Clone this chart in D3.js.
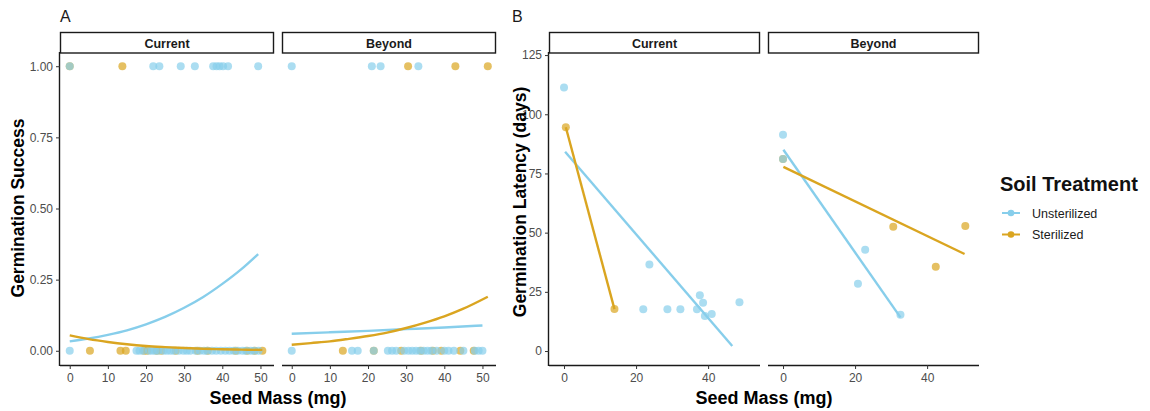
<!DOCTYPE html>
<html><head><meta charset="utf-8">
<script src="https://cdn.jsdelivr.net/npm/d3@7"></script>
<style>body{margin:0;background:#fff;} svg{display:block;font-family:"Liberation Sans",Arial,sans-serif;}</style>
</head><body><svg id="chart" width="1150" height="411"></svg>
<script>
// ---------- data ----------
const facets = ["Current", "Beyond"];
const treatments = ["Unsterilized", "Sterilized"];
const xTicksA = [0, 10, 20, 30, 40, 50];
const yTicksA = [0, 0.25, 0.5, 0.75, 1];
const yTickLabelsA = ["0.00", "0.25", "0.50", "0.75", "1.00"];
const xTicksB = [0, 20, 40];
const yTicksB = [0, 25, 50, 75, 100, 125];

// Panel A: seed mass of seeds that germinated (1) or not (0)
const aCurUnsterSuccess = [0, 21.9, 23.5, 29.1, 32.8, 37.6, 38.5, 39.3, 40.2, 41.5, 49.4];
const aCurSterSuccess = [0, 13.8];
const aCurUnsterFail = [0, 17.5, 18.3, 19.2, 20.8, 21.6, 22.4, 23.2, 24.6, 25.5, 26.4, 27.3, 28.6, 29.8, 30.7, 31.6, 33.0, 34.1, 35.2, 36.0, 37.3, 38.4, 39.6, 40.8, 41.9, 43.0, 44.1, 45.3, 46.2, 47.4, 48.3, 49.5];
const aCurSterFail = [5.3, 13.3, 14.7, 19.5, 20.3, 22.8, 24.0, 27.8, 33.5, 36.2, 43.5, 46.5, 48.5, 50.5];
const aBeyUnsterSuccess = [0, 21, 23.3, 33.2];
const aBeySterSuccess = [30.5, 42.9, 51.4];
const aBeyUnsterFail = [0, 15.8, 17.3, 21.5, 25.2, 26.3, 27.4, 29.5, 30.6, 31.6, 32.6, 33.6, 34.6, 35.6, 36.6, 38.0, 40.0, 41.1, 42.5, 45.0, 48.0, 49.0, 50.0];
const aBeySterFail = [13.4, 21.5, 28.7, 33.9, 37.0, 39.2, 44.2, 47.7];

// Panel A fitted logistic curves
const aCurUnsterFitX = [0, 5, 10, 15, 20, 25, 30, 35, 40, 45, 49.4];
const aCurUnsterFitY = [0.033, 0.043, 0.056, 0.072, 0.093, 0.119, 0.151, 0.189, 0.235, 0.287, 0.34];
const aCurSterFitX = [0, 5, 10, 15, 20, 25, 30, 35, 40, 45, 50.5];
const aCurSterFitY = [0.054, 0.041, 0.031, 0.023, 0.017, 0.013, 0.0097, 0.0072, 0.0054, 0.004, 0.003];
const aBeyUnsterFitX = [0, 10, 20, 30, 40, 50];
const aBeyUnsterFitY = [0.060, 0.065, 0.070, 0.076, 0.082, 0.089];
const aBeySterFitX = [0, 5, 10, 15, 20, 25, 30, 35, 40, 45, 51.4];
const aBeySterFitY = [0.021, 0.027, 0.033, 0.042, 0.052, 0.064, 0.080, 0.099, 0.121, 0.148, 0.19];

// Panel B: germination latency (days)
const bCurUnsterMass = [0, 23.7, 22, 28.7, 32.3, 36.9, 37.7, 38.6, 39.1, 41, 48.7];
const bCurUnsterDays = [111.3, 36.6, 17.6, 17.6, 17.6, 17.6, 23.6, 20.4, 14.8, 15.6, 20.6];
const bCurSterMass = [0.5, 14];
const bCurSterDays = [94.5, 17.7];
const bBeyUnsterMass = [0, 0, 22.8, 20.8, 32.6];
const bBeyUnsterDays = [91.3, 81.1, 42.8, 28.4, 15.3];
const bBeySterMass = [0, 30.6, 42.4, 50.6];
const bBeySterDays = [81.1, 52.5, 35.6, 52.8];
// Panel B fitted lines
const bCurUnsterFitX = [0.3, 46.7], bCurUnsterFitY = [84.2, 2.1];
const bCurSterFitX = [0.5, 14], bCurSterFitY = [94.5, 17.7];
const bBeyUnsterFitX = [0.1, 32.6], bBeyUnsterFitY = [85, 14.2];
const bBeySterFitX = [0.1, 50.4], bBeySterFitY = [77.8, 41.0];

// ---------- style ----------
const colBlue = "#87CEEB", colGold = "#DAA520";
const colors = {Unsterilized: colBlue, Sterilized: colGold};
const ptOpacity = 0.7, ptR = 4, lineW = 2.4;
const tickCol = "#4d4d4d";

const svg = d3.select("#chart");
const pTop = 52, pBottom = 365;

function zipXY(xs, ys) { return xs.map((x, i) => [x, ys[i]]); }

function drawPanel(cfg) {
  const g = svg.append("g");
  const x = d3.scaleLinear().domain(cfg.xDomain).range([cfg.x0, cfg.x1]);
  const y = cfg.y;
  // strip
  g.append("rect").attr("x", cfg.x0 + 0.5).attr("y", 32.5).attr("width", cfg.x1 - cfg.x0 - 1).attr("height", 20.5)
    .attr("fill", "#fff").attr("stroke", "#1a1a1a").attr("stroke-width", 1.4);
  g.append("text").attr("x", (cfg.x0 + cfg.x1) / 2).attr("y", 47.5).attr("text-anchor", "middle")
    .attr("font-size", 12.5).attr("font-weight", "bold").attr("fill", "#1a1a1a").text(cfg.facet);
  // x axis
  const xa = g.append("g").attr("transform", `translate(0,${pBottom})`)
    .call(d3.axisBottom(x).tickValues(cfg.xTicks).tickSize(4).tickPadding(4).tickFormat(d3.format("d")));
  xa.select(".domain").attr("stroke", "#1a1a1a").attr("stroke-width", 1.4).attr("d", `M${cfg.x0},0.5H${cfg.x1}`);
  xa.selectAll(".tick line").attr("stroke", "#333").attr("stroke-width", 1);
  xa.selectAll(".tick text").attr("fill", tickCol).attr("font-size", 12).attr("font-family", "Liberation Sans, Arial, sans-serif");
  // y axis for leftmost panel only
  if (cfg.yAxis) {
    const ya = g.append("g").attr("transform", `translate(${cfg.x0},0)`)
      .call(d3.axisLeft(y).tickValues(cfg.yTicks).tickSize(4).tickPadding(3).tickFormat((d, i) => cfg.yLabels[i]));
    ya.select(".domain").attr("stroke", "#1a1a1a").attr("stroke-width", 1.4).attr("d", `M-0.5,${pTop}V${pBottom + 1}`);
    ya.selectAll(".tick line").attr("stroke", "#333").attr("stroke-width", 1);
    ya.selectAll(".tick text").attr("fill", tickCol).attr("font-size", 12).attr("font-family", "Liberation Sans, Arial, sans-serif");
  }
  // points (sterilized first, unsterilized drawn over it)
  cfg.points.forEach(p => {
    g.append("g").selectAll("circle").data(zipXY(p.xs, p.ys)).join("circle")
      .attr("cx", d => x(d[0])).attr("cy", d => y(d[1])).attr("r", ptR)
      .attr("fill", colors[p.t]).attr("fill-opacity", ptOpacity);
  });
  // fitted lines
  const line = d3.line().x(d => x(d[0])).y(d => y(d[1])).curve(d3.curveMonotoneX);
  cfg.fits.forEach(f => {
    g.append("path").datum(zipXY(f.xs, f.ys)).attr("d", line).attr("fill", "none")
      .attr("stroke", colors[f.t]).attr("stroke-width", lineW);
  });
}

const ones = n => Array(n).fill(1), zeros = n => Array(n).fill(0);

// Panel A
const yA = d3.scaleLinear().domain([-0.05, 1.05]).range([pBottom, pTop]);
const panelsA = [
  {facet: facets[0], x0: 60, x1: 274, yAxis: true,
   points: [
     {t: treatments[1], xs: aCurSterFail, ys: zeros(aCurSterFail.length)},
     {t: treatments[1], xs: aCurSterSuccess, ys: ones(aCurSterSuccess.length)},
     {t: treatments[0], xs: aCurUnsterFail, ys: zeros(aCurUnsterFail.length)},
     {t: treatments[0], xs: aCurUnsterSuccess, ys: ones(aCurUnsterSuccess.length)}],
   fits: [{t: treatments[0], xs: aCurUnsterFitX, ys: aCurUnsterFitY}, {t: treatments[1], xs: aCurSterFitX, ys: aCurSterFitY}]},
  {facet: facets[1], x0: 282, x1: 496, yAxis: false,
   points: [
     {t: treatments[1], xs: aBeySterFail, ys: zeros(aBeySterFail.length)},
     {t: treatments[1], xs: aBeySterSuccess, ys: ones(aBeySterSuccess.length)},
     {t: treatments[0], xs: aBeyUnsterFail, ys: zeros(aBeyUnsterFail.length)},
     {t: treatments[0], xs: aBeyUnsterSuccess, ys: ones(aBeyUnsterSuccess.length)}],
   fits: [{t: treatments[0], xs: aBeyUnsterFitX, ys: aBeyUnsterFitY}, {t: treatments[1], xs: aBeySterFitX, ys: aBeySterFitY}]}
];
panelsA.forEach(p => drawPanel(Object.assign(p, {xDomain: [-2.55, 53.55], xTicks: xTicksA, y: yA, yTicks: yTicksA, yLabels: yTickLabelsA})));

// Panel B
const yB = d3.scaleLinear().domain([-5.9, 126.3]).range([pBottom, pTop]);
const panelsB = [
  {facet: facets[0], x0: 549, x1: 760, yAxis: true,
   points: [{t: treatments[1], xs: bCurSterMass, ys: bCurSterDays}, {t: treatments[0], xs: bCurUnsterMass, ys: bCurUnsterDays}],
   fits: [{t: treatments[0], xs: bCurUnsterFitX, ys: bCurUnsterFitY}, {t: treatments[1], xs: bCurSterFitX, ys: bCurSterFitY}]},
  {facet: facets[1], x0: 768, x1: 979, yAxis: false,
   points: [{t: treatments[1], xs: bBeySterMass, ys: bBeySterDays}, {t: treatments[0], xs: bBeyUnsterMass, ys: bBeyUnsterDays}],
   fits: [{t: treatments[0], xs: bBeyUnsterFitX, ys: bBeyUnsterFitY}, {t: treatments[1], xs: bBeySterFitX, ys: bBeySterFitY}]}
];
panelsB.forEach(p => drawPanel(Object.assign(p, {xDomain: [-4.17, 54.4], xTicks: xTicksB, y: yB, yTicks: yTicksB, yLabels: yTicksB.map(String)})));

// Titles
svg.append("text").attr("x", 60).attr("y", 22).attr("font-size", 16).attr("fill", "#1a1a1a").text("A");
svg.append("text").attr("x", 512).attr("y", 22).attr("font-size", 16).attr("fill", "#1a1a1a").text("B");
svg.append("text").attr("x", 278).attr("y", 404).attr("text-anchor", "middle").attr("font-size", 18).attr("font-weight", "bold").text("Seed Mass (mg)");
svg.append("text").attr("x", 764).attr("y", 404).attr("text-anchor", "middle").attr("font-size", 18).attr("font-weight", "bold").text("Seed Mass (mg)");
svg.append("text").attr("transform", "translate(24,208) rotate(-90)").attr("text-anchor", "middle").attr("font-size", 17.5).attr("font-weight", "bold").text("Germination Success");
svg.append("text").attr("transform", "translate(526,202) rotate(-90)").attr("text-anchor", "middle").attr("font-size", 17.5).attr("font-weight", "bold").text("Germination Latency (days)");

// Legend
const lg = svg.append("g");
lg.append("text").attr("x", 1000).attr("y", 191).attr("font-size", 20).attr("font-weight", "bold").attr("fill", "#111").text("Soil Treatment");
treatments.forEach((t, i) => {
  const yy = 213 + i * 21.5;
  lg.append("line").attr("x1", 1002).attr("x2", 1020).attr("y1", yy).attr("y2", yy).attr("stroke", colors[t]).attr("stroke-width", 2);
  lg.append("circle").attr("cx", 1011).attr("cy", yy).attr("r", 3.3).attr("fill", colors[t]);
  lg.append("text").attr("x", 1032).attr("y", yy + 4.5).attr("font-size", 12.5).attr("fill", "#1a1a1a").text(t);
});
</script></body></html>
